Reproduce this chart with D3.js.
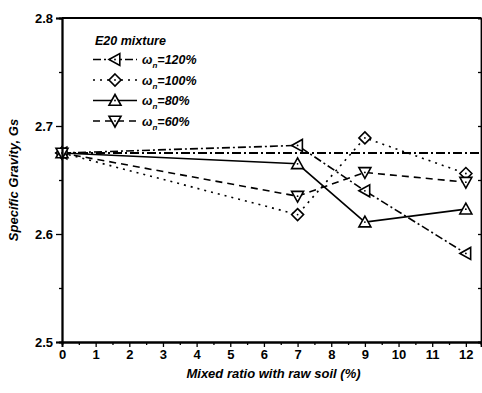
<!DOCTYPE html>
<html>
<head>
<meta charset="utf-8">
<script src="https://cdn.jsdelivr.net/npm/d3@7"></script>
<style>
  body { margin: 0; background: #fff; }
  text { font-family: "Liberation Sans", Arial, sans-serif; fill: #000; }
</style>
</head>
<body>
<script>
const width = 482;
const height = 393;

// mixed ratio with raw soil (%)
const ratios = [0, 7, 9, 12];
// specific gravity for each water content
const gs120 = [2.675, 2.682, 2.640, 2.582];
const gs100 = [2.675, 2.618, 2.689, 2.656];
const gs80 = [2.675, 2.665, 2.611, 2.623];
const gs60 = [2.675, 2.635, 2.657, 2.648];
const rawSoilGs = 2.675;
const seriesNames = ["120%", "100%", "80%", "60%"];
const xTicks = d3.range(0, 13);
const yTicks = [2.5, 2.6, 2.7, 2.8];

const x = d3.scaleLinear().domain([0, 12.45]).range([62, 481]);
const y = d3.scaleLinear().domain([2.5, 2.8]).range([342, 18]);

const svg = d3.select("body").append("svg")
    .attr("width", width)
    .attr("height", height);

const series = [
  {name: seriesNames[0], values: gs120, dash: "8,3,2,3", shape: "left"},
  {name: seriesNames[1], values: gs100, dash: "2,5", shape: "diamond"},
  {name: seriesNames[2], values: gs80, dash: null, shape: "up"},
  {name: seriesNames[3], values: gs60, dash: "7,5", shape: "down"}
];

// marker outlines, centred on 0,0
function markerPath(shape) {
  const s = 6;
  if (shape === "left") return `M${-s},0L${s * 0.8},${-s}L${s * 0.8},${s}Z`;
  if (shape === "diamond") return `M0,${-s}L${s},0L0,${s}L${-s},0Z`;
  if (shape === "up") return `M0,${-s}L${s},${s * 0.8}L${-s},${s * 0.8}Z`;
  return `M0,${s}L${s},${-s * 0.8}L${-s},${-s * 0.8}Z`;
}

function drawMarker(g, shape, cx, cy) {
  g.append("path")
      .attr("d", markerPath(shape))
      .attr("transform", `translate(${cx},${cy})`)
      .attr("fill", "#fff")
      .attr("stroke", "#000")
      .attr("stroke-width", 1.6);
  g.append("circle")
      .attr("cx", cx).attr("cy", cy).attr("r", 0.9)
      .attr("fill", "#000");
}

// raw soil reference line
svg.append("line")
    .attr("x1", x(0)).attr("x2", x(12.45))
    .attr("y1", y(rawSoilGs)).attr("y2", y(rawSoilGs))
    .attr("stroke", "#000")
    .attr("stroke-width", 1.8)
    .attr("stroke-dasharray", "9,3,2,3");

const line = d3.line()
    .x((d, i) => x(ratios[i]))
    .y(d => y(d));

series.forEach(s => {
  svg.append("path")
      .attr("d", line(s.values))
      .attr("fill", "none")
      .attr("stroke", "#000")
      .attr("stroke-width", 1.6)
      .attr("stroke-dasharray", s.dash);
});
series.forEach(s => {
  const g = svg.append("g");
  s.values.forEach((v, i) => drawMarker(g, s.shape, x(ratios[i]), y(v)));
});

// axes
svg.append("g")
    .attr("transform", `translate(0,${y(2.5)})`)
    .call(d3.axisBottom(x).tickValues(xTicks).tickSize(5).tickPadding(3).tickFormat(d3.format("d")));
svg.append("g")
    .attr("transform", `translate(0,${y(2.5)})`)
    .call(d3.axisBottom(x).tickValues(d3.range(0.5, 12.5, 1)).tickSize(3).tickFormat(""));
svg.append("g")
    .attr("transform", `translate(${x(0)},0)`)
    .call(d3.axisLeft(y).tickValues(yTicks).tickSize(6).tickPadding(3).tickFormat(d3.format(".1f")));
svg.append("g")
    .attr("transform", `translate(${x(0)},0)`)
    .call(d3.axisLeft(y).tickValues([2.55, 2.65, 2.75]).tickSize(3).tickFormat(""));
svg.append("g")
    .attr("transform", `translate(${x(12.45)},0)`)
    .call(d3.axisRight(y).tickValues([2.55, 2.6, 2.65, 2.7, 2.75]).tickSize(-3).tickFormat(""));

svg.selectAll(".domain").attr("stroke-width", 1.8);
svg.selectAll(".tick line").attr("stroke-width", 1.3);
svg.selectAll(".tick text")
    .style("font-size", "13px")
    .style("font-weight", "bold")
    .style("font-family", "'Liberation Sans', Arial, sans-serif");

// top border
svg.append("line")
    .attr("x1", x(0)).attr("x2", x(12.45))
    .attr("y1", y(2.8)).attr("y2", y(2.8))
    .attr("stroke", "#000").attr("stroke-width", 1.8);

// axis titles
svg.append("text")
    .attr("x", (x(0) + x(12.45)) / 2 + 2)
    .attr("y", 378)
    .attr("text-anchor", "middle")
    .style("font-size", "13px")
    .style("font-weight", "bold")
    .style("font-style", "italic")
    .text("Mixed ratio with raw soil (%)");

svg.append("text")
    .attr("transform", `translate(18,${y(2.65)}) rotate(-90)`)
    .attr("text-anchor", "middle")
    .style("font-size", "13px")
    .style("font-weight", "bold")
    .style("font-style", "italic")
    .text("Specific Gravity, Gs");

// legend
const legend = svg.append("g");
legend.append("text")
    .attr("x", 95).attr("y", 45)
    .style("font-size", "12.5px")
    .style("font-weight", "bold")
    .style("font-style", "italic")
    .text("E20 mixture");

series.forEach((s, i) => {
  const ly = 59.5 + i * 20.5;
  legend.append("line")
      .attr("x1", 93).attr("x2", 137)
      .attr("y1", ly).attr("y2", ly)
      .attr("stroke", "#000")
      .attr("stroke-width", 1.6)
      .attr("stroke-dasharray", s.dash);
  drawMarker(legend, s.shape, 115, ly);
  const t = legend.append("text")
      .attr("x", 142).attr("y", ly + 4.5)
      .style("font-size", "12.5px")
      .style("font-weight", "bold")
      .style("font-style", "italic");
  t.append("tspan").text("ω");
  t.append("tspan").attr("dy", 4).style("font-size", "8px").text("n");
  t.append("tspan").attr("dy", -4).text("=" + s.name);
});
</script>
</body>
</html>
